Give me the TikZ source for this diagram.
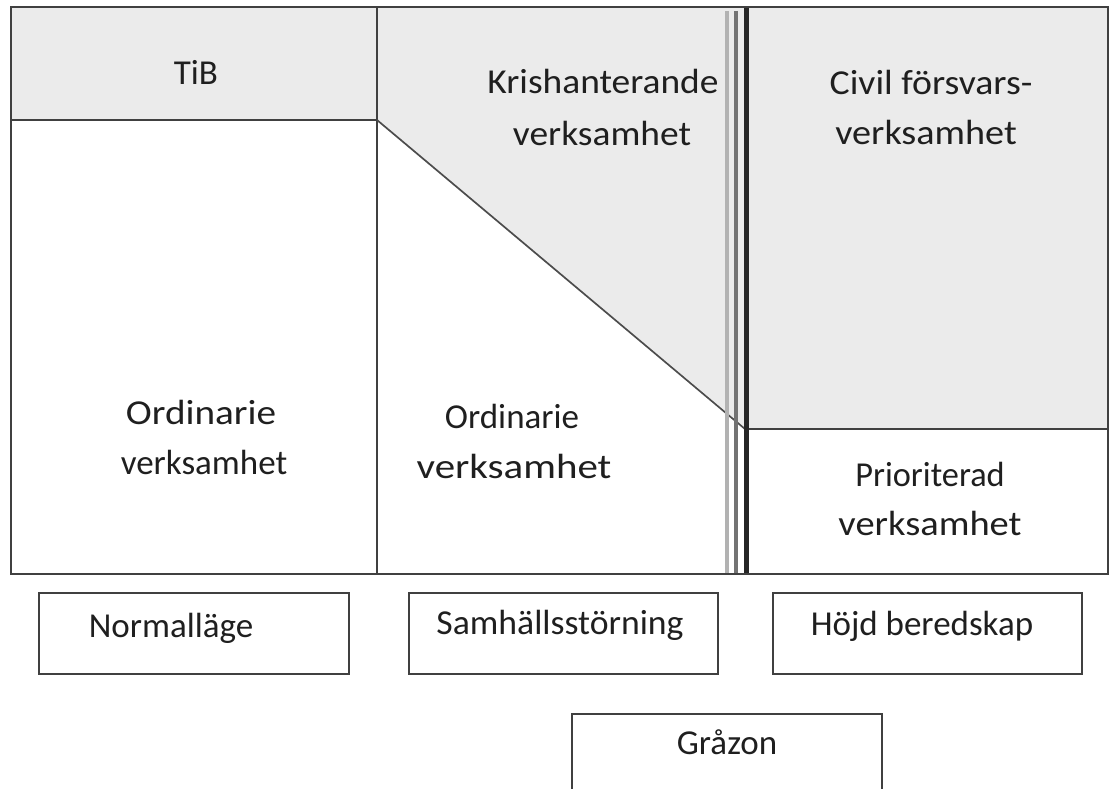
\documentclass[tikz,border=0pt]{standalone}
\usepackage{fontspec}
\setmainfont{Carlito}
\newcommand{\hsc}[2]{\scalebox{#1}[1]{#2}}
\begin{document}
\begin{tikzpicture}[x=1pt,y=-1pt,
  frame/.style={draw=black!75,line width=2.5pt},
  lbl/.style={anchor=base,inner sep=0pt,font=\fontsize{35}{42}\selectfont,text=black!88}]
\useasboundingbox (0,0) rectangle (1112,789);
\clip (0,0) rectangle (1112,789);
\definecolor{panelgray}{HTML}{EBEBEB}
% fills
\fill[panelgray] (11,7) rectangle (377,120);
\fill[panelgray] (377,7) -- (747,7) -- (747,429) -- (377,120) -- cycle;
\fill[panelgray] (747,7) rectangle (1108,429);
% inner lines
\draw[frame] (11,120) -- (377,120);
\draw[frame] (377,7) -- (377,574);
\draw[draw=black!70,line width=1.7pt] (377,120) -- (745,429);
\draw[frame] (747,429) -- (1108,429);
\draw[draw=black!30,line width=3.6pt] (727,11) -- (727,574);
\draw[draw=black!55,line width=3.6pt] (736,11) -- (736,574);
\draw[draw=black!85,line width=4.6pt] (746.5,7) -- (746.5,574);
% outer frame
\draw[frame] (11,7) rectangle (1108,574);
% texts
\node[lbl] (tib) at (196,85) {TiB};
\node[lbl] (kris1) at (603,94) {\hsc{1.07}{Krishanterande}};
\node[lbl] (kris2) at (602,146) {\hsc{1.07}{verksamhet}};
\node[lbl] (civ1) at (931,95) {\hsc{1.08}{Civil försvars-}};
\node[lbl] (civ2) at (926,145) {\hsc{1.09}{verksamhet}};
\node[lbl] (ord1) at (201,424) {\hsc{1.12}{Ordinarie}};
\node[lbl] (ord2) at (204,474) {verksamhet};
\node[lbl] (ordm1) at (512,428) {Ordinarie};
\node[lbl] (ordm2) at (514,478) {\hsc{1.17}{verksamhet}};
\node[lbl] (pri1) at (930,486) {\hsc{0.98}{Prioriterad}};
\node[lbl] (pri2) at (930,535) {\hsc{1.1}{verksamhet}};
% bottom boxes
\draw[frame] (39,593) rectangle (349,674);
\node[lbl] (norm) at (171,637) {Normalläge};
\draw[frame] (409,593) rectangle (718,674);
\node[lbl] (samh) at (560,634) {\hsc{1.02}{Samhällsstörning}};
\draw[frame] (773,593) rectangle (1082,674);
\node[lbl] (hojd) at (922,635) {Höjd beredskap};
\draw[frame] (572,800) -- (572,714) -- (882,714) -- (882,800);
\node[lbl] (graz) at (727,754) {Gråzon};
\end{tikzpicture}
\end{document}
